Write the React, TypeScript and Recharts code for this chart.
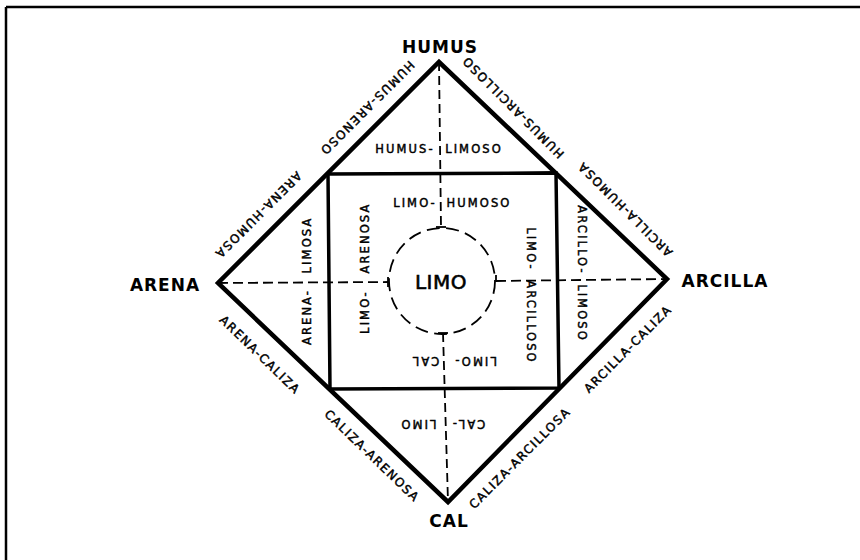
import React from 'react';
import { ScatterChart, Scatter, XAxis, YAxis, ReferenceDot } from 'recharts';

// ---- geometry (diagram coordinate space, 0..860 x 0..560, y downwards) ----
const frameTop = [{ x: 6, y: 7 }, { x: 860, y: 7 }];
const frameLeft = [{ x: 6, y: 7 }, { x: 6, y: 560 }];

const diamond = [
  { x: 218, y: 283 },
  { x: 439, y: 62 },
  { x: 667, y: 279 },
  { x: 448, y: 502 },
  { x: 218, y: 283 },
  { x: 439, y: 62 },
];

const innerSquare = [
  { x: 328, y: 174 },
  { x: 556, y: 173 },
  { x: 559, y: 388 },
  { x: 330, y: 389 },
  { x: 328, y: 174 },
  { x: 556, y: 173 },
];

const dashTop = [{ x: 439, y: 62 }, { x: 441, y: 227 }];
const dashBottom = [{ x: 443, y: 333 }, { x: 448, y: 502 }];
const dashLeft = [{ x: 218, y: 283 }, { x: 388, y: 282 }];
const dashRight = [{ x: 496, y: 281 }, { x: 667, y: 279 }];

const tickTop = [{ x: 436, y: 227 }, { x: 446, y: 227 }];
const tickBottom = [{ x: 438, y: 333 }, { x: 448, y: 333 }];
const tickLeft = [{ x: 388, y: 277 }, { x: 388, y: 287 }];
const tickRight = [{ x: 496, y: 275 }, { x: 496, y: 282 }];

const circleCenter = { x: 442, y: 281 };

// ---- labels ----
const vertexLabels = [
  { x: 440, y: 47, text: 'HUMUS', angle: 0 },
  { x: 165, y: 285, text: 'ARENA', angle: 0 },
  { x: 725, y: 281, text: 'ARCILLA', angle: 0 },
  { x: 449, y: 521, text: 'CAL', angle: 0 },
];

const centerLabel = [{ x: 441, y: 282, text: 'LIMO', angle: 0 }];

const edgeLabels = [
  { x: 367, y: 108, text: 'HUMUS-ARENOSO', angle: 135 },
  { x: 258, y: 215, text: 'ARENA-HUMOSA', angle: 135 },
  { x: 513, y: 107, text: 'HUMUS-ARCILLOSO', angle: -135 },
  { x: 625, y: 209, text: 'ARCILLA-HUMOSA', angle: -135 },
  { x: 260, y: 355, text: 'ARENA-CALIZA', angle: 44 },
  { x: 372, y: 456, text: 'CALIZA-ARENOSA', angle: 44 },
  { x: 520, y: 458, text: 'CALIZA-ARCILLOSA', angle: -45 },
  { x: 628, y: 349, text: 'ARCILLA-CALIZA', angle: -45 },
];

const innerLabels = [
  { x: 405, y: 149, text: 'HUMUS-', angle: 0 },
  { x: 474, y: 149, text: 'LIMOSO', angle: 0 },
  { x: 415, y: 203, text: 'LIMO-', angle: 0 },
  { x: 479, y: 203, text: 'HUMOSO', angle: 0 },
  { x: 365, y: 312, text: 'LIMO-', angle: -90 },
  { x: 365, y: 238, text: 'ARENOSA', angle: -90 },
  { x: 307, y: 317, text: 'ARENA-', angle: -90 },
  { x: 307, y: 245, text: 'LIMOSA', angle: -90 },
  { x: 531, y: 249, text: 'LIMO-', angle: 90 },
  { x: 531, y: 322, text: 'ARCILLOSO', angle: 90 },
  { x: 582, y: 240, text: 'ARCILLO-', angle: 90 },
  { x: 582, y: 313, text: 'LIMOSO', angle: 90 },
  { x: 475, y: 361, text: 'LIMO-', angle: 180 },
  { x: 425, y: 361, text: 'CAL', angle: 180 },
  { x: 468, y: 424, text: 'CAL-', angle: 180 },
  { x: 418, y: 424, text: 'LIMO', angle: 180 },
];

const FONT = '"DejaVu Sans", "Liberation Sans", sans-serif';

function makeTextShape(fontSize: number, fontWeight: string, letterSpacing: number, thicken: number) {
  return (props: any) => {
    const { cx, cy, payload } = props;
    if (cx == null || cy == null) return <g />;
    return (
      <text
        x={cx}
        y={cy}
        transform={`rotate(${payload.angle} ${cx} ${cy})`}
        textAnchor="middle"
        dominantBaseline="central"
        fontFamily={FONT}
        fontSize={fontSize}
        fontWeight={fontWeight}
        letterSpacing={letterSpacing}
        fill="#000"
        stroke="#000"
        strokeWidth={thicken}
      >
        {payload.text}
      </text>
    );
  };
}

const NoDot = () => <g />;

const lineSeries = (data: any[], width: number, dash?: string, key?: string) => (
  <Scatter
    key={key}
    data={data}
    isAnimationActive={false}
    shape={NoDot}
    line={{ stroke: '#000', strokeWidth: width, strokeDasharray: dash, fill: 'none' }}
    lineType="joint"
  />
);

export default function App() {
  return (
    <div style={{ position: 'absolute', left: 0, top: 0, width: 860, height: 560, background: '#fff' }}>
      <ScatterChart width={860} height={560} margin={{ top: 0, right: 0, bottom: 0, left: 0 }}>
        <XAxis type="number" dataKey="x" domain={[0, 860]} hide allowDataOverflow />
        <YAxis type="number" dataKey="y" domain={[0, 560]} reversed hide allowDataOverflow />
        {lineSeries(frameTop, 2.5, undefined, 'ft')}
        {lineSeries(frameLeft, 2.5, undefined, 'fl')}
        {lineSeries(dashTop, 1.8, '9 5', 'dt')}
        {lineSeries(dashBottom, 1.8, '9 5', 'db')}
        {lineSeries(dashLeft, 1.8, '10 5', 'dl')}
        {lineSeries(dashRight, 1.8, '10 5', 'dr')}
        {lineSeries(tickTop, 1.8, undefined, 'tt')}
        {lineSeries(tickBottom, 1.8, undefined, 'tb')}
        {lineSeries(tickLeft, 1.8, undefined, 'tl')}
        {lineSeries(tickRight, 1.8, undefined, 'tr')}
        {lineSeries(innerSquare, 3.5, undefined, 'sq')}
        {lineSeries(diamond, 4.5, undefined, 'dm')}
        <ReferenceDot
          x={circleCenter.x}
          y={circleCenter.y}
          r={53}
          fill="none"
          stroke="#000"
          strokeWidth={1.8}
          strokeDasharray="13 6.5"
          ifOverflow="visible"
        />
        <Scatter data={vertexLabels} isAnimationActive={false} shape={makeTextShape(17, 'bold', 1, 0)} />
        <Scatter data={centerLabel} isAnimationActive={false} shape={makeTextShape(20, 'normal', 0.5, 0.6)} />
        <Scatter data={edgeLabels} isAnimationActive={false} shape={makeTextShape(12, 'normal', 1.5, 0.45)} />
        <Scatter data={innerLabels} isAnimationActive={false} shape={makeTextShape(11.5, 'normal', 2.1, 0.45)} />
      </ScatterChart>
    </div>
  );
}
